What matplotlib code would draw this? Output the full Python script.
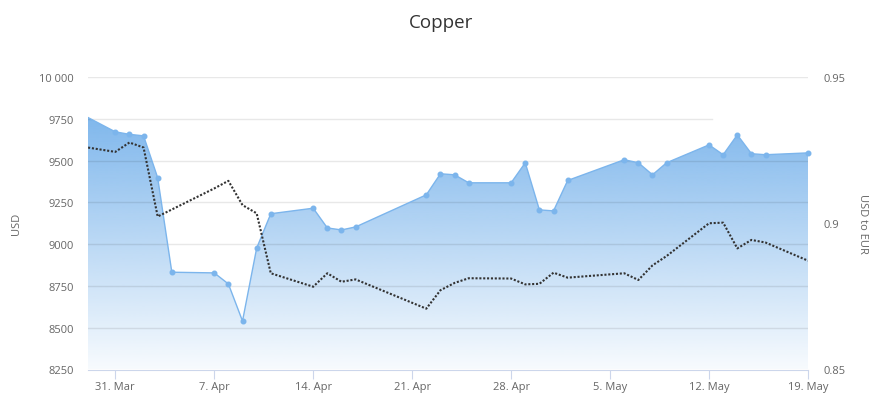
import matplotlib
matplotlib.use("Agg")
import matplotlib.pyplot as plt
import matplotlib.dates as mdates
from matplotlib.patches import Polygon
from matplotlib.colors import to_rgb
import numpy as np
import pandas as pd

# ---------------- data ----------------
dates = ["2025-03-28", "2025-03-31", "2025-04-01", "2025-04-02", "2025-04-03", "2025-04-04",
         "2025-04-07", "2025-04-08", "2025-04-09", "2025-04-10", "2025-04-11",
         "2025-04-14", "2025-04-15", "2025-04-16", "2025-04-17",
         "2025-04-22", "2025-04-23", "2025-04-24", "2025-04-25",
         "2025-04-28", "2025-04-29", "2025-04-30", "2025-05-01", "2025-05-02",
         "2025-05-06", "2025-05-07", "2025-05-08", "2025-05-09",
         "2025-05-12", "2025-05-13", "2025-05-14", "2025-05-15", "2025-05-16",
         "2025-05-19"]
copper = [9805, 9672, 9657, 9648, 9397, 8832,
          8828, 8762, 8540, 8976, 9182,
          9215, 9097, 9085, 9103,
          9295, 9421, 9415, 9367,
          9367, 9487, 9205, 9199, 9381,
          9505, 9487, 9415, 9487,
          9594, 9535, 9654, 9541, 9535,
          9546]
usd_eur = [0.9267, 0.9244, 0.9276, 0.9259, 0.9023, 0.9047,
           0.9119, 0.9145, 0.9062, 0.9034, 0.8829,
           0.8783, 0.8829, 0.8800, 0.8808,
           0.8708, 0.8771, 0.8796, 0.8812,
           0.8811, 0.8791, 0.8793, 0.8831, 0.8814,
           0.8829, 0.8806, 0.8856, 0.8888,
           0.9000, 0.9002, 0.8914, 0.8943, 0.8934,
           0.8872]

x_tick_dates = ["2025-03-31", "2025-04-07", "2025-04-14", "2025-04-21",
                "2025-04-28", "2025-05-05", "2025-05-12", "2025-05-19"]
x_tick_labels = ["31. Mar", "7. Apr", "14. Apr", "21. Apr",
                 "28. Apr", "5. May", "12. May", "19. May"]
left_ticks = [8250, 8500, 8750, 9000, 9250, 9500, 9750, 10000]
left_labels = ["8250", "8500", "8750", "9000", "9250", "9500", "9750", "10 000"]
right_ticks = [0.85, 0.9, 0.95]
right_labels = ["0.85", "0.9", "0.95"]

title = "Copper"
left_title = "USD"
right_title = "USD to EUR"

# ---------------- figure ----------------
plt.rcParams['font.family'] = ['Open Sans', 'DejaVu Sans']
W, H = 882, 406
fig = plt.figure(figsize=(W / 100, H / 100), dpi=100)
ax = fig.add_axes([88 / W, 1 - 370.5 / H, 720 / W, 292.5 / H])
ax2 = ax.twinx()

x = mdates.date2num(pd.to_datetime(dates))
xt = mdates.date2num(pd.to_datetime(x_tick_dates))
xmin = xt[0] - 1.93
xmax = xt[-1]
ymin, ymax = left_ticks[0], left_ticks[-1]

# gradient area
blue = np.array(to_rgb("#7cb5ec"))
n = 300
alpha = np.linspace(1.0, 0.06, n)
img = np.zeros((n, 1, 4))
img[..., :3] = blue
img[:, 0, 3] = alpha
gtop = max(copper)
im = ax.imshow(img, extent=[x[0], x[-1], ymin, gtop], origin='upper',
               aspect='auto', zorder=1, interpolation='bilinear')
verts = [(x[0], ymin)] + list(zip(x, copper)) + [(x[-1], ymin)]
poly = Polygon(verts, closed=True, facecolor='none', edgecolor='none',
               transform=ax.transData)
ax.add_patch(poly)
im.set_clip_path(poly)

# gridlines
for yv in left_ticks[1:]:
    xm = 0.867 if yv == 9750 else 1.0
    ax.axhline(yv, xmin=0, xmax=xm, color='black', alpha=0.09, lw=1, zorder=1.5)

# copper line + markers
ax.plot(x, copper, color='#7cb5ec', lw=1, zorder=3)
inside = x >= xmin
ax.plot(x[inside], np.array(copper)[inside], linestyle='none', marker='o',
        ms=3.3, color='#7cb5ec', zorder=4, clip_on=False)

# usd to eur dotted
ax2.plot(x, usd_eur, color='#333333', lw=1.5, linestyle=(0, (1, 0.85)), zorder=5)

ax.set_xlim(xmin, xmax)
ax.set_ylim(ymin, ymax)
ax2.set_ylim(right_ticks[0], right_ticks[-1])

for s in ['top', 'left', 'right']:
    ax.spines[s].set_visible(False)
ax.spines['bottom'].set_color('#ccd6eb')
for s in ax2.spines.values():
    s.set_visible(False)

ax.set_xticks(xt)
ax.set_xticklabels(x_tick_labels)
ax.tick_params(axis='x', length=6.5, width=0.8, color='#ccd6eb',
               labelcolor='#666666', labelsize=8, pad=1.5)
ax.set_yticks(left_ticks)
ax.set_yticklabels(left_labels)
ax.tick_params(axis='y', length=0, labelcolor='#666666', labelsize=8, pad=10)
ax2.set_yticks(right_ticks)
ax2.set_yticklabels(right_labels)
ax2.tick_params(axis='y', length=0, labelcolor='#666666', labelsize=8, pad=11)

fig.text(441 / W, 1 - 23 / H, title, ha='center', va='center',
         fontsize=13.5, color='#333333')
fig.text(17 / W, 1 - 224 / H, left_title, ha='center', va='center',
         rotation=90, fontsize=8, color='#666666')
fig.text(862 / W, 1 - 224 / H, right_title, ha='center', va='center',
         rotation=-90, fontsize=8, color='#666666')

fig.savefig("out.png", dpi=100)
